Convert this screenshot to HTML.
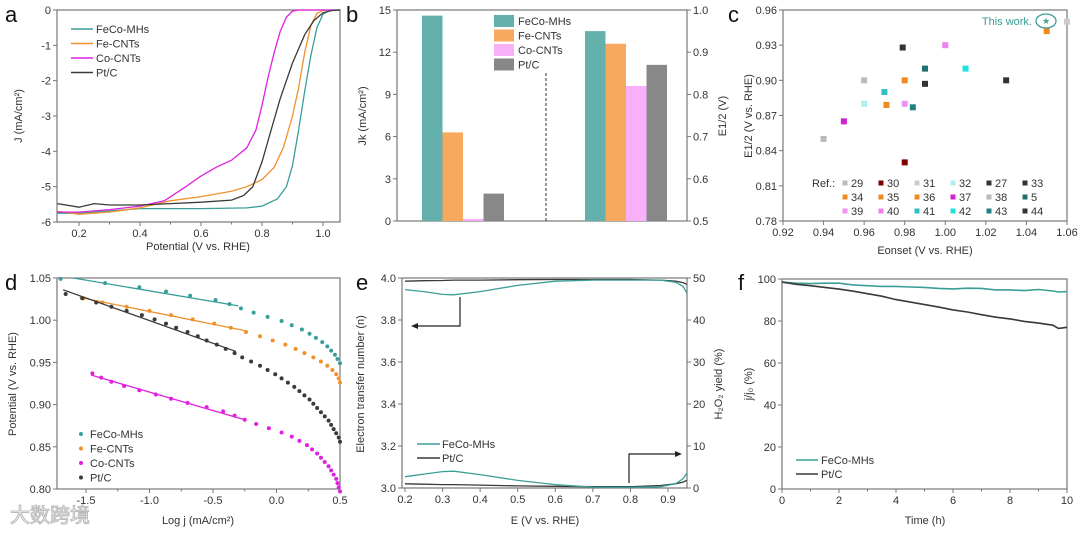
<!DOCTYPE html>
<html><head><meta charset="utf-8"><style>
body{margin:0;background:#fff}
svg{display:block;font-family:"Liberation Sans",Arial,sans-serif}
</style></head><body>
<svg id="s" width="1080" height="535" viewBox="0 0 1080 535"></svg>
<script>
// ---------- data ----------
const aFeCo=[[0.13,-5.75],[0.2,-5.75],[0.4,-5.62],[0.6,-5.62],[0.75,-5.6],[0.8,-5.55],[0.85,-5.35],[0.88,-5.0],[0.9,-4.4],[0.92,-3.4],[0.94,-2.3],[0.96,-1.3],[0.98,-0.5],[1.0,-0.12],[1.02,-0.02],[1.056,0]];
const aFe=[[0.13,-5.7],[0.2,-5.78],[0.3,-5.72],[0.4,-5.6],[0.5,-5.4],[0.6,-5.28],[0.7,-5.13],[0.75,-5.0],[0.8,-4.8],[0.84,-4.45],[0.87,-3.9],[0.9,-3.0],[0.92,-2.2],[0.94,-1.2],[0.96,-0.45],[0.98,-0.1],[1.0,-0.01],[1.056,0]];
const aCo=[[0.13,-5.72],[0.2,-5.72],[0.3,-5.65],[0.4,-5.55],[0.48,-5.4],[0.55,-5.0],[0.6,-4.7],[0.65,-4.45],[0.7,-4.25],[0.75,-3.9],[0.78,-3.4],[0.8,-2.7],[0.82,-1.9],[0.84,-1.2],[0.86,-0.6],[0.88,-0.2],[0.9,-0.03],[0.92,0],[1.056,0]];
const aPt=[[0.13,-5.48],[0.2,-5.58],[0.25,-5.48],[0.3,-5.52],[0.4,-5.52],[0.5,-5.48],[0.6,-5.44],[0.7,-5.38],[0.74,-5.25],[0.77,-5.0],[0.8,-4.3],[0.83,-3.4],[0.86,-2.5],[0.9,-1.5],[0.94,-0.7],[0.97,-0.3],[1.0,-0.08],[1.03,-0.01],[1.056,0]];
const bNames=["FeCo-MHs","Fe-CNTs","Co-CNTs","Pt/C"];
const bJk=[14.6,6.3,0.15,1.95];
const bE12=[0.95,0.92,0.82,0.87];
const cX=[0.94,0.95,0.96,0.96,0.97,0.971,0.979,0.98,0.98,0.98,0.984,0.99,0.99,1.00,1.01,1.03,1.05,1.06];
const cY=[0.85,0.865,0.88,0.90,0.89,0.879,0.928,0.90,0.88,0.83,0.877,0.91,0.897,0.93,0.91,0.90,0.942,0.95];
const cRef=["29","37","32","38","41","36","27","35","39","30","43","5","33","40","42","44","34","31"];
const dFeCoX=[-1.7,-1.35,-1.08,-0.87,-0.68,-0.48,-0.37,-0.28,-0.18,-0.07,0.04,0.12,0.2,0.26,0.31,0.36,0.4,0.43,0.46,0.48,0.5];
const dFeCoY=[1.049,1.044,1.039,1.034,1.029,1.024,1.019,1.014,1.009,1.004,0.999,0.994,0.989,0.984,0.979,0.974,0.969,0.964,0.959,0.954,0.949];
const dFeX=[-1.52,-1.37,-1.18,-1.0,-0.83,-0.66,-0.49,-0.36,-0.24,-0.13,-0.03,0.07,0.15,0.22,0.29,0.35,0.4,0.44,0.47,0.49,0.5];
const dFeY=[1.026,1.021,1.016,1.011,1.006,1.001,0.996,0.991,0.986,0.981,0.976,0.971,0.966,0.961,0.956,0.951,0.946,0.941,0.936,0.931,0.926];
const dPtX=[-1.66,-1.53,-1.42,-1.3,-1.18,-1.06,-0.96,-0.87,-0.79,-0.7,-0.62,-0.55,-0.47,-0.4,-0.33,-0.27,-0.2,-0.13,-0.07,-0.01,0.04,0.09,0.14,0.18,0.22,0.26,0.29,0.32,0.35,0.38,0.41,0.43,0.45,0.47,0.49,0.5];
const dPtY=[1.031,1.026,1.021,1.016,1.011,1.006,1.001,0.996,0.991,0.986,0.981,0.976,0.971,0.966,0.961,0.956,0.951,0.946,0.941,0.936,0.931,0.926,0.921,0.916,0.911,0.906,0.901,0.896,0.891,0.886,0.881,0.876,0.871,0.866,0.861,0.856];
const dCoX=[-1.45,-1.38,-1.3,-1.2,-1.08,-0.95,-0.83,-0.7,-0.55,-0.42,-0.33,-0.25,-0.16,-0.06,0.04,0.12,0.18,0.24,0.28,0.32,0.35,0.38,0.41,0.43,0.45,0.47,0.48,0.49,0.5];
const dCoY=[0.937,0.932,0.927,0.922,0.917,0.912,0.907,0.902,0.897,0.892,0.887,0.882,0.877,0.872,0.867,0.862,0.857,0.852,0.847,0.842,0.837,0.832,0.827,0.822,0.817,0.812,0.807,0.802,0.797];
const dFits=[[-1.6,1.05,-0.3,1.017],[-1.55,1.027,-0.23,0.987],[-1.68,1.036,-0.32,0.963],[-1.46,0.935,-0.25,0.882]];
const eX=[0.2,0.25,0.3,0.33,0.4,0.5,0.6,0.7,0.8,0.88,0.92,0.94,0.95];
const eFeCoN=[3.945,3.935,3.922,3.92,3.935,3.965,3.985,3.99,3.99,3.99,3.98,3.96,3.93];
const ePtN=[3.985,3.987,3.988,3.99,3.99,3.992,3.993,3.993,3.993,3.99,3.985,3.978,3.97];
const eFeCoH=[2.7,3.3,3.9,4.0,3.2,1.8,0.8,0.2,0.15,0.3,1.0,2.2,3.5];
const ePtH=[1.0,0.9,0.8,0.8,0.7,0.5,0.4,0.3,0.3,0.6,1.0,1.4,1.8];
const fT=[0,0.5,1,1.5,2,2.5,3,3.5,4,4.5,5,5.5,6,6.5,7,7.5,8,8.5,9,9.5,9.7,10];
const fFeCo=[98.5,98,97.8,98,98,97.2,96.8,96.5,96.5,96.2,96,95.5,95.3,95.6,95.5,94.8,94.8,94.5,95,94.3,93.8,94];
const fPt=[98.5,97.5,96.8,96,95.2,94.2,93,91.8,90.2,89,87.8,86.6,85.3,84.3,83,81.8,81,79.8,79,78,76.5,77];

// ---------- helpers ----------
const S=document.getElementById('s'),NS='http://www.w3.org/2000/svg';
function el(t,a,p){const e=document.createElementNS(NS,t);for(const k in a)e.setAttribute(k,a[k]);(p||S).appendChild(e);return e;}
function tx(x,y,s,o){o=o||{};const e=el('text',{x:x,y:y,'font-size':o.fs||11,'text-anchor':o.a||'middle',fill:o.c||'#333'});if(o.st)e.setAttribute('stroke',o.st);if(o.r)e.setAttribute('transform','rotate('+o.r+' '+x+' '+y+')');e.textContent=s;return e;}
function lin(d0,d1,p0,p1){return v=>p0+(v-d0)/(d1-d0)*(p1-p0);}
function frame(x0,y0,x1,y1,name){const r=el('rect',{x:x0,y:y0,width:x1-x0,height:y1-y0,fill:'none',stroke:'#777','stroke-width':1.2});}
function xticks(vals,sx,y,fmt,name,minor){vals.forEach(v=>{el('line',{x1:sx(v),x2:sx(v),y1:y,y2:y+4,stroke:'#777'});tx(sx(v),y+15,fmt(v),{n:name});});if(minor)minor.forEach(v=>el('line',{x1:sx(v),x2:sx(v),y1:y,y2:y+2.5,stroke:'#777'}));}
function yticks(vals,sy,x,fmt,name,right){vals.forEach(v=>{el('line',{x1:x,x2:right?x+4:x-4,y1:sy(v),y2:sy(v),stroke:'#777'});tx(right?x+6:x-6,sy(v)+4,fmt(v),{n:name,a:right?'start':'end'});});}
function path(pts,sx,sy,c,name,w){const p=el('polyline',{points:pts.map(q=>sx(q[0]).toFixed(1)+','+sy(q[1]).toFixed(1)).join(' '),fill:'none',stroke:c,'stroke-width':w||1.3});return p;}
const TEAL='#3a9e98',ORG='#f0912c',MAG='#e020e0',DK='#3a3a3a';

// ---------- a ----------
(function(){const sx=lin(0.2,1.0,79,323),sy=lin(0,-6,10,222);
frame(57,10,340,222,'panel-a-axes');
xticks([0.2,0.4,0.6,0.8,1.0],sx,222,v=>v.toFixed(1),'a-x-tick',[0.3,0.5,0.7,0.9]);
yticks([0,-1,-2,-3,-4,-5,-6],sy,57,v=>String(v),'a-y-tick');
path(aFeCo,sx,sy,TEAL,'a-line-feco');path(aFe,sx,sy,ORG,'a-line-fe');path(aCo,sx,sy,MAG,'a-line-co');path(aPt,sx,sy,DK,'a-line-pt');
tx(198,250,'Potential (V vs. RHE)',{n:'a-x-title'});tx(22,116,'J (mA/cm²)',{n:'a-y-title',r:-90});
tx(5,22,'a',{fs:22,a:'start',n:'panel-label-a',c:'#111'});
[['FeCo-MHs',TEAL],['Fe-CNTs',ORG],['Co-CNTs',MAG],['Pt/C',DK]].forEach((l,i)=>{const y=29+i*14.5;el('line',{x1:71,x2:93,y1:y,y2:y,stroke:l[1],'stroke-width':1.5});tx(96,y+4,l[0],{a:'start',n:'a-legend-entry'});});})();

// ---------- b ----------
(function(){const sy=lin(0,15,221,10),sy2=lin(0.5,1.0,221,10);
const cols=['#64b0ac','#f7a95f','#f8b0f8','#888888'];
frame(397,10,687,221,'panel-b-axes');
yticks([0,3,6,9,12,15],sy,397,v=>String(v),'b-y-tick');
yticks([0.5,0.6,0.7,0.8,0.9,1.0],sy2,687,v=>v.toFixed(1),'b-y2-tick',true);
bJk.forEach((v,i)=>{const r=el('rect',{x:422+i*20.5,y:sy(v),width:20.5,height:221-sy(v),fill:cols[i]});});
bE12.forEach((v,i)=>{const r=el('rect',{x:585+i*20.5,y:sy2(v),width:20.5,height:221-sy2(v),fill:cols[i]});});
el('line',{x1:546,x2:546,y1:73,y2:221,stroke:'#333','stroke-dasharray':'3,2'});
bNames.forEach((n,i)=>{const y=15+i*14.5;el('rect',{x:494,y:y,width:20,height:12,fill:cols[i]});tx(518,y+10,n,{a:'start',n:'b-legend-entry'});});
tx(366,116,'Jk (mA/cm²)',{n:'b-y-title',r:-90});tx(726,116,'E1/2 (V)',{n:'b-y2-title',r:-90});
tx(346,22,'b',{fs:22,a:'start',n:'panel-label-b',c:'#111'});})();

// ---------- c ----------
(function(){const sx=lin(0.92,1.06,783,1067),sy=lin(0.96,0.78,10,221);
const colMap={'29':'#bbb','37':'#d020d0','32':'#aef0f0','38':'#bbb','41':'#30c0c0','36':'#f08a20','27':'#333','35':'#f08a20','39':'#f090f0','30':'#800000','43':'#208080','5':'#207070','33':'#333','40':'#f080f0','42':'#20e0e0','44':'#333','34':'#f08a20','31':'#ccc'};
frame(783,10,1067,221,'panel-c-axes');
xticks([0.92,0.94,0.96,0.98,1.00,1.02,1.04,1.06],sx,221,v=>v.toFixed(2),'c-x-tick');
yticks([0.96,0.93,0.90,0.87,0.84,0.81,0.78],sy,783,v=>v.toFixed(2),'c-y-tick');
cX.forEach((x,i)=>{const c=el('rect',{x:sx(x)-3,y:sy(cY[i])-3,width:6,height:6,fill:colMap[cRef[i]]});});
tx(1046,24,'★',{fs:9,c:TEAL,n:'c-this-work-star'});
el('ellipse',{cx:1046,cy:21,rx:10,ry:7,fill:'none',stroke:TEAL,'stroke-width':1.3});
tx(1032,25,'This work.',{a:'end',c:TEAL,n:'c-this-work-label'});
const refs=[['29','30','31','32','27','33'],['34','35','36','37','38','5'],['39','40','41','42','43','44']];
tx(812,187,'Ref.:',{a:'start',n:'c-legend-title'});
refs.forEach((row,r)=>row.forEach((k,j)=>{const x=845+j*36,y=183+r*14;el('rect',{x:x-2.5,y:y-2.5,width:5,height:5,fill:colMap[k]});tx(x+6,y+4,k,{a:'start',n:'c-legend-entry'});}));
tx(925,254,'Eonset (V vs. RHE)',{n:'c-x-title'});tx(752,116,'E1/2 (V vs. RHE)',{n:'c-y-title',r:-90});
tx(728,22,'c',{fs:22,a:'start',n:'panel-label-c',c:'#111'});})();

// ---------- d ----------
(function(){const sx=lin(-1.5,0.5,86,340),sy=lin(1.05,0.80,278,489);
frame(57,278,340,489,'panel-d-axes');
xticks([-1.5,-1.0,-0.5,0.0,0.5],sx,489,v=>v.toFixed(1),'d-x-tick',[-1.25,-0.75,-0.25,0.25]);
yticks([1.05,1.00,0.95,0.90,0.85,0.80],sy,57,v=>v.toFixed(2),'d-y-tick');
const sets=[[dFeCoX,dFeCoY,TEAL,'feco'],[dFeX,dFeY,ORG,'fe'],[dPtX,dPtY,DK,'pt'],[dCoX,dCoY,MAG,'co']];
sets.forEach((s,k)=>{const f=dFits[k];const l=el('line',{x1:sx(f[0]),y1:sy(f[1]),x2:sx(f[2]),y2:sy(f[3]),stroke:s[2],'stroke-width':1.3});
s[0].forEach((x,i)=>{const c=el('circle',{cx:sx(x),cy:sy(s[1][i]),r:2,fill:s[2]});});});
[['FeCo-MHs',TEAL],['Fe-CNTs',ORG],['Co-CNTs',MAG],['Pt/C',DK]].forEach((l,i)=>{const y=434+i*14.5;el('circle',{cx:81,cy:y,r:2,fill:l[1]});tx(90,y+4,l[0],{a:'start',n:'d-legend-entry'});});
tx(198,524,'Log j (mA/cm²)',{n:'d-x-title'});tx(16,384,'Potential (V vs. RHE)',{n:'d-y-title',r:-90});
tx(5,290,'d',{fs:22,a:'start',n:'panel-label-d',c:'#111'});
tx(10,522,'大数跨境',{fs:20,a:'start',c:'#fff',st:'#bbb',n:'watermark'});})();

// ---------- e ----------
(function(){const sx=lin(0.2,0.9,405,668),sy=lin(4.0,3.0,278,488),sy2=lin(50,0,278,488);
frame(402,278,687,488,'panel-e-axes');
xticks([0.2,0.3,0.4,0.5,0.6,0.7,0.8,0.9],sx,488,v=>v.toFixed(1),'e-x-tick');
yticks([3.0,3.2,3.4,3.6,3.8,4.0],sy,402,v=>v.toFixed(1),'e-y-tick');
yticks([0,10,20,30,40,50],sy2,687,v=>String(v),'e-y2-tick',true);
path(eX.map((x,i)=>[x,ePtN[i]]),sx,sy,DK,'e-n-pt');
path(eX.map((x,i)=>[x,eFeCoN[i]]),sx,sy,TEAL,'e-n-feco');
path(eX.map((x,i)=>[x,ePtH[i]]),sx,sy2,DK,'e-h2o2-pt');
path(eX.map((x,i)=>[x,eFeCoH[i]]),sx,sy2,TEAL,'e-h2o2-feco');
el('polyline',{points:'460,297 460,326 417,326',fill:'none',stroke:'#222','stroke-width':1.2});el('polygon',{points:'411,326 418,323 418,329',fill:'#222'});
el('polyline',{points:'629,483 629,454 676,454',fill:'none',stroke:'#222','stroke-width':1.2});el('polygon',{points:'682,454 675,451 675,457',fill:'#222'});
[['FeCo-MHs',TEAL],['Pt/C',DK]].forEach((l,i)=>{const y=444+i*14;el('line',{x1:417,x2:440,y1:y,y2:y,stroke:l[1],'stroke-width':1.5});tx(442,y+4,l[0],{a:'start',n:'e-legend-entry'});});
tx(545,524,'E (V vs. RHE)',{n:'e-x-title'});tx(364,384,'Electron transfer number (n)',{n:'e-y-title',r:-90});tx(722,384,'H₂O₂ yield (%)',{n:'e-y2-title',r:-90});
tx(356,290,'e',{fs:22,a:'start',n:'panel-label-e',c:'#111'});})();

// ---------- f ----------
(function(){const sx=lin(0,10,782,1067),sy=lin(100,0,279,489);
frame(782,279,1067,489,'panel-f-axes');
xticks([0,2,4,6,8,10],sx,489,v=>String(v),'f-x-tick',[1,3,5,7,9]);
yticks([0,20,40,60,80,100],sy,782,v=>String(v),'f-y-tick');
path(fT.map((t,i)=>[t,fFeCo[i]]),sx,sy,TEAL,'f-line-feco',1.6);
path(fT.map((t,i)=>[t,fPt[i]]),sx,sy,DK,'f-line-pt',1.6);
[['FeCo-MHs',TEAL],['Pt/C',DK]].forEach((l,i)=>{const y=460+i*14;el('line',{x1:796,x2:818,y1:y,y2:y,stroke:l[1],'stroke-width':1.5});tx(821,y+4,l[0],{a:'start',n:'f-legend-entry'});});
tx(925,524,'Time (h)',{n:'f-x-title'});tx(752,384,'j/j₀ (%)',{n:'f-y-title',r:-90});
tx(738,290,'f',{fs:22,a:'start',n:'panel-label-f',c:'#111'});})();
</script>
</body></html>
